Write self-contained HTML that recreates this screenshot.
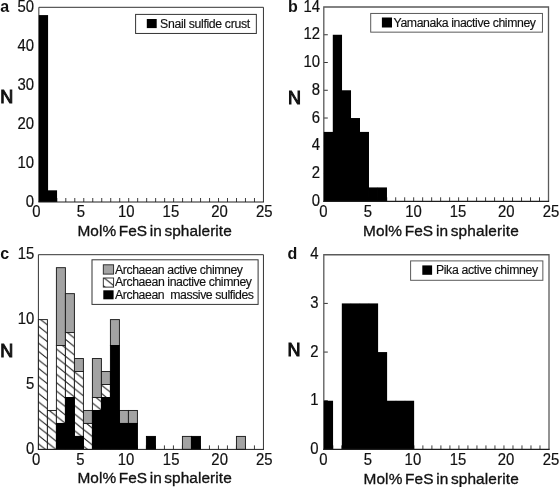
<!DOCTYPE html>
<html lang="en"><head><meta charset="utf-8"><title>Mol% FeS in sphalerite histograms</title>
<style>
html,body{margin:0;padding:0;background:#fff;}
body{width:560px;height:487px;overflow:hidden;}
svg{display:block;filter:blur(0.4px);}
text{font-family:"Liberation Sans",Arial,Helvetica,sans-serif;fill:#111;}
.tk{font-size:14.9px;stroke:#111;stroke-width:0.18px;}
.ti{font-size:15.4px;word-spacing:-1.8px;stroke:#111;stroke-width:0.32px;}
.lt{font-size:16px;font-weight:bold;}
.nn{font-size:18px;stroke:#111;stroke-width:1px;}
.lg{font-size:12.3px;stroke:#111;stroke-width:0.15px;}
</style></head><body>
<svg width="560" height="487" viewBox="0 0 560 487">
<defs>
<pattern id="hatch" patternUnits="userSpaceOnUse" x="38.3" y="410.1" width="10.5" height="8.4">
<rect width="10.5" height="8.4" fill="#fff"/>
<path d="M-2.5 -2L13 10.4M-2.5 6.4L2.5 10.4M8 -2L13 2" stroke="#1c1c1c" stroke-width="1" fill="none"/>
</pattern>
</defs>
<rect width="560" height="487" fill="#fff"/>

<g>
<path d="M47.83 202v-4M56.82 202v-4M65.8 202v-4M74.79 202v-4M83.77 202v-4M92.75 202v-4M101.74 202v-4M110.72 202v-4M119.71 202v-4M128.69 202v-4M137.67 202v-4M146.66 202v-4M155.64 202v-4M164.63 202v-4M173.61 202v-4M182.59 202v-4M191.58 202v-4M200.56 202v-4M209.55 202v-4M218.53 202v-4M227.51 202v-4M236.5 202v-4M245.48 202v-4M254.47 202v-4" stroke="#333" stroke-width="0.95" fill="none"/>
<path d="M38.85 202V7.3H263.45V202" fill="none" stroke="#333" stroke-width="1"/>
<rect x="38.85" y="15.09" width="9.23" height="186.91" fill="#000"/>
<rect x="47.83" y="190.32" width="9.23" height="11.68" fill="#000"/>
<path d="M38.35 202H263.95" fill="none" stroke="#1e1e1e" stroke-width="1.2"/>
<text class="tk" text-anchor="end" transform="translate(34.05 206.5) scale(1 1.08)">0</text>
<text class="tk" text-anchor="end" transform="translate(34.05 167.56) scale(1 1.08)">10</text>
<text class="tk" text-anchor="end" transform="translate(34.05 128.62) scale(1 1.08)">20</text>
<text class="tk" text-anchor="end" transform="translate(34.05 89.68) scale(1 1.08)">30</text>
<text class="tk" text-anchor="end" transform="translate(34.05 50.74) scale(1 1.08)">40</text>
<text class="tk" text-anchor="end" transform="translate(34.05 11.8) scale(1 1.08)">50</text>
<text class="tk" text-anchor="middle" transform="translate(36.45 217.3) scale(1 1.08)">0</text>
<text class="tk" text-anchor="middle" transform="translate(80.92 217.3) scale(1 1.08)">5</text>
<text class="tk" text-anchor="middle" transform="translate(126.29 217.3) scale(1 1.08)">10</text>
<text class="tk" text-anchor="middle" transform="translate(170.91 217.3) scale(1 1.08)">15</text>
<text class="tk" text-anchor="middle" transform="translate(219.53 217.3) scale(1 1.08)">20</text>
<text class="tk" text-anchor="middle" transform="translate(264.35 217.3) scale(1 1.08)">25</text>
<text class="ti" x="77.45" y="235.9" textLength="154.3" lengthAdjust="spacing">Mol% FeS in sphalerite</text>
<text class="lt" x="0.3" y="12.2">a</text>
<text class="nn" x="0.2" y="103">N</text>
<rect x="135.6" y="14.4" width="120.75" height="19.05" fill="#fff" stroke="#333" stroke-width="1"/>
<rect x="146.8" y="19" width="9.9" height="9.1" fill="#000"/>
<text class="lg" transform="translate(160.1 27.8) scale(1 1.06)" textLength="90" lengthAdjust="spacing" xml:space="preserve">Snail sulfide crust</text>
</g>
<g>
<path d="M332.79 201.3v-4M341.78 201.3v-4M350.76 201.3v-4M359.75 201.3v-4M368.74 201.3v-4M377.73 201.3v-4M386.72 201.3v-4M395.7 201.3v-4M404.69 201.3v-4M413.68 201.3v-4M422.67 201.3v-4M431.66 201.3v-4M440.64 201.3v-4M449.63 201.3v-4M458.62 201.3v-4M467.61 201.3v-4M476.6 201.3v-4M485.58 201.3v-4M494.57 201.3v-4M503.56 201.3v-4M512.55 201.3v-4M521.54 201.3v-4M530.52 201.3v-4M539.51 201.3v-4" stroke="#333" stroke-width="0.95" fill="none"/>
<path d="M323.8 173.54h4M323.8 145.79h4M323.8 118.03h4M323.8 90.27h4M323.8 62.51h4M323.8 34.76h4" stroke="#333" stroke-width="1" fill="none"/>
<path d="M323.8 201.3V7H548.5V201.3" fill="none" stroke="#5a5a5a" stroke-width="1.3"/>
<rect x="323.8" y="131.91" width="9.24" height="69.39" fill="#000"/>
<rect x="332.79" y="34.76" width="9.24" height="166.54" fill="#000"/>
<rect x="341.78" y="90.27" width="9.24" height="111.03" fill="#000"/>
<rect x="350.76" y="118.03" width="9.24" height="83.27" fill="#000"/>
<rect x="359.75" y="131.91" width="9.24" height="69.39" fill="#000"/>
<rect x="368.74" y="187.42" width="9.24" height="13.88" fill="#000"/>
<rect x="377.73" y="187.42" width="9.24" height="13.88" fill="#000"/>
<path d="M323.15 201.3H549.15" fill="none" stroke="#1e1e1e" stroke-width="1.2"/>
<text class="tk" text-anchor="end" transform="translate(320.1 206) scale(1 1.08)">0</text>
<text class="tk" text-anchor="end" transform="translate(320.1 178.24) scale(1 1.08)">2</text>
<text class="tk" text-anchor="end" transform="translate(320.1 150.49) scale(1 1.08)">4</text>
<text class="tk" text-anchor="end" transform="translate(320.1 122.73) scale(1 1.08)">6</text>
<text class="tk" text-anchor="end" transform="translate(320.1 94.97) scale(1 1.08)">8</text>
<text class="tk" text-anchor="end" transform="translate(320.1 67.21) scale(1 1.08)">10</text>
<text class="tk" text-anchor="end" transform="translate(320.1 39.46) scale(1 1.08)">12</text>
<text class="tk" text-anchor="end" transform="translate(320.1 11.7) scale(1 1.08)">14</text>
<text class="tk" text-anchor="middle" transform="translate(323.4 217.2) scale(1 1.08)">0</text>
<text class="tk" text-anchor="middle" transform="translate(367.94 217.2) scale(1 1.08)">5</text>
<text class="tk" text-anchor="middle" transform="translate(413.58 217.2) scale(1 1.08)">10</text>
<text class="tk" text-anchor="middle" transform="translate(458.12 217.2) scale(1 1.08)">15</text>
<text class="tk" text-anchor="middle" transform="translate(506.36 217.2) scale(1 1.08)">20</text>
<text class="tk" text-anchor="middle" transform="translate(551 217.2) scale(1 1.08)">25</text>
<text class="ti" x="363" y="235.7" textLength="155.7" lengthAdjust="spacing">Mol% FeS in sphalerite</text>
<text class="lt" x="288" y="12.2">b</text>
<text class="nn" x="288" y="104">N</text>
<rect x="370.7" y="13.45" width="171.75" height="18.7" fill="#fff" stroke="#5a5a5a" stroke-width="1"/>
<rect x="381.9" y="17.5" width="10.1" height="10" fill="#000"/>
<text class="lg" transform="translate(393.5 27.4) scale(1 1.06)" textLength="142.5" lengthAdjust="spacing" xml:space="preserve">Yamanaka inactive chimney</text>
</g>
<g>
<path d="M47.4 449.4v-4M56.4 449.4v-4M65.41 449.4v-4M74.41 449.4v-4M83.41 449.4v-4M92.41 449.4v-4M101.41 449.4v-4M110.42 449.4v-4M119.42 449.4v-4M128.42 449.4v-4M137.42 449.4v-4M146.42 449.4v-4M155.43 449.4v-4M164.43 449.4v-4M173.43 449.4v-4M182.43 449.4v-4M191.43 449.4v-4M200.44 449.4v-4M209.44 449.4v-4M218.44 449.4v-4M227.44 449.4v-4M236.44 449.4v-4M245.45 449.4v-4M254.45 449.4v-4" stroke="#333" stroke-width="0.95" fill="none"/>
<path d="M38.4 449.4V254.7H263.45V449.4" fill="none" stroke="#333" stroke-width="1"/>
<rect x="56.4" y="267.68" width="9" height="77.88" fill="#a3a3a3" stroke="#1c1c1c" stroke-width="0.95"/>
<rect x="65.41" y="293.64" width="9" height="38.94" fill="#a3a3a3" stroke="#1c1c1c" stroke-width="0.95"/>
<rect x="74.41" y="358.54" width="9" height="12.98" fill="#a3a3a3" stroke="#1c1c1c" stroke-width="0.95"/>
<rect x="83.41" y="410.46" width="9" height="12.98" fill="#a3a3a3" stroke="#1c1c1c" stroke-width="0.95"/>
<rect x="92.41" y="358.54" width="9" height="38.94" fill="#a3a3a3" stroke="#1c1c1c" stroke-width="0.95"/>
<rect x="101.41" y="371.52" width="9" height="12.98" fill="#a3a3a3" stroke="#1c1c1c" stroke-width="0.95"/>
<rect x="110.42" y="319.6" width="9" height="25.96" fill="#a3a3a3" stroke="#1c1c1c" stroke-width="0.95"/>
<rect x="119.42" y="410.46" width="9" height="12.98" fill="#a3a3a3" stroke="#1c1c1c" stroke-width="0.95"/>
<rect x="128.42" y="410.46" width="9" height="12.98" fill="#a3a3a3" stroke="#1c1c1c" stroke-width="0.95"/>
<rect x="182.43" y="436.42" width="9" height="12.98" fill="#a3a3a3" stroke="#1c1c1c" stroke-width="0.95"/>
<rect x="236.44" y="436.42" width="9" height="12.98" fill="#a3a3a3" stroke="#1c1c1c" stroke-width="0.95"/>
<rect x="38.4" y="319.6" width="9" height="129.8" fill="url(#hatch)" stroke="#1c1c1c" stroke-width="0.95"/>
<rect x="47.4" y="410.46" width="9" height="38.94" fill="url(#hatch)" stroke="#1c1c1c" stroke-width="0.95"/>
<rect x="56.4" y="345.56" width="9" height="77.88" fill="url(#hatch)" stroke="#1c1c1c" stroke-width="0.95"/>
<rect x="65.41" y="332.58" width="9" height="64.9" fill="url(#hatch)" stroke="#1c1c1c" stroke-width="0.95"/>
<rect x="74.41" y="371.52" width="9" height="64.9" fill="url(#hatch)" stroke="#1c1c1c" stroke-width="0.95"/>
<rect x="83.41" y="423.44" width="9" height="25.96" fill="url(#hatch)" stroke="#1c1c1c" stroke-width="0.95"/>
<rect x="92.41" y="397.48" width="9" height="12.98" fill="url(#hatch)" stroke="#1c1c1c" stroke-width="0.95"/>
<rect x="101.41" y="384.5" width="9" height="12.98" fill="url(#hatch)" stroke="#1c1c1c" stroke-width="0.95"/>
<rect x="56.4" y="423.44" width="9" height="25.96" fill="#000" stroke="#000" stroke-width="0.95"/>
<rect x="65.41" y="397.48" width="9" height="51.92" fill="#000" stroke="#000" stroke-width="0.95"/>
<rect x="74.41" y="436.42" width="9" height="12.98" fill="#000" stroke="#000" stroke-width="0.95"/>
<rect x="92.41" y="410.46" width="9" height="38.94" fill="#000" stroke="#000" stroke-width="0.95"/>
<rect x="101.41" y="397.48" width="9" height="51.92" fill="#000" stroke="#000" stroke-width="0.95"/>
<rect x="110.42" y="345.56" width="9" height="103.84" fill="#000" stroke="#000" stroke-width="0.95"/>
<rect x="119.42" y="423.44" width="9" height="25.96" fill="#000" stroke="#000" stroke-width="0.95"/>
<rect x="128.42" y="423.44" width="9" height="25.96" fill="#000" stroke="#000" stroke-width="0.95"/>
<rect x="146.42" y="436.42" width="9" height="12.98" fill="#000" stroke="#000" stroke-width="0.95"/>
<rect x="191.43" y="436.42" width="9" height="12.98" fill="#000" stroke="#000" stroke-width="0.95"/>
<path d="M37.9 449.4H263.95" fill="none" stroke="#1e1e1e" stroke-width="1"/>
<text class="tk" text-anchor="end" transform="translate(34.4 453.5) scale(1 1.08)">0</text>
<text class="tk" text-anchor="end" transform="translate(34.4 388.6) scale(1 1.08)">5</text>
<text class="tk" text-anchor="end" transform="translate(34.4 323.7) scale(1 1.08)">10</text>
<text class="tk" text-anchor="end" transform="translate(34.4 258.8) scale(1 1.08)">15</text>
<text class="tk" text-anchor="middle" transform="translate(36.1 465.3) scale(1 1.08)">0</text>
<text class="tk" text-anchor="middle" transform="translate(80.51 465.3) scale(1 1.08)">5</text>
<text class="tk" text-anchor="middle" transform="translate(126.12 465.3) scale(1 1.08)">10</text>
<text class="tk" text-anchor="middle" transform="translate(171.13 465.3) scale(1 1.08)">15</text>
<text class="tk" text-anchor="middle" transform="translate(219.64 465.3) scale(1 1.08)">20</text>
<text class="tk" text-anchor="middle" transform="translate(264.25 465.3) scale(1 1.08)">25</text>
<text class="ti" x="77.4" y="482.9" textLength="154.3" lengthAdjust="spacing">Mol% FeS in sphalerite</text>
<text class="lt" x="0.3" y="259.2">c</text>
<text class="nn" x="0.2" y="356.6">N</text>
<rect x="92" y="259.8" width="166.1" height="44.6" fill="#fff" stroke="#333" stroke-width="1"/>
<rect x="103.3" y="264.8" width="10.3" height="9.3" fill="#a3a3a3" stroke="#222" stroke-width="0.9"/>
<text class="lg" transform="translate(115 273.8) scale(1 1.06)" textLength="128" lengthAdjust="spacing" xml:space="preserve">Archaean active chimney</text>
<rect x="103.3" y="278" width="10.3" height="9.1" fill="url(#hatch)" stroke="#222" stroke-width="0.9"/>
<text class="lg" transform="translate(115 286.4) scale(1 1.06)" textLength="137" lengthAdjust="spacing" xml:space="preserve">Archaean inactive chimney</text>
<rect x="103.3" y="290.3" width="10.3" height="9" fill="#000"/>
<text class="lg" transform="translate(115 298.6) scale(1 1.06)" textLength="139" lengthAdjust="spacing" xml:space="preserve">Archaean  massive sulfides</text>
</g>
<g>
<path d="M332.81 449.4v-4M341.82 449.4v-4M350.82 449.4v-4M359.83 449.4v-4M368.84 449.4v-4M377.85 449.4v-4M386.86 449.4v-4M395.86 449.4v-4M404.87 449.4v-4M413.88 449.4v-4M422.89 449.4v-4M431.9 449.4v-4M440.9 449.4v-4M449.91 449.4v-4M458.92 449.4v-4M467.93 449.4v-4M476.94 449.4v-4M485.94 449.4v-4M494.95 449.4v-4M503.96 449.4v-4M512.97 449.4v-4M521.98 449.4v-4M530.98 449.4v-4M539.99 449.4v-4" stroke="#333" stroke-width="0.95" fill="none"/>
<path d="M323.8 400.74h4M323.8 352.07h4M323.8 303.41h4" stroke="#333" stroke-width="1" fill="none"/>
<path d="M323.8 449.4V254.75H549V449.4" fill="none" stroke="#5a5a5a" stroke-width="1.3"/>
<rect x="323.8" y="400.74" width="9.26" height="48.66" fill="#000"/>
<rect x="341.82" y="303.41" width="9.26" height="145.99" fill="#000"/>
<rect x="350.82" y="303.41" width="9.26" height="145.99" fill="#000"/>
<rect x="359.83" y="303.41" width="9.26" height="145.99" fill="#000"/>
<rect x="368.84" y="303.41" width="9.26" height="145.99" fill="#000"/>
<rect x="377.85" y="352.07" width="9.26" height="97.32" fill="#000"/>
<rect x="386.86" y="400.74" width="9.26" height="48.66" fill="#000"/>
<rect x="395.86" y="400.74" width="9.26" height="48.66" fill="#000"/>
<rect x="404.87" y="400.74" width="9.26" height="48.66" fill="#000"/>
<path d="M323.15 449.4H549.65" fill="none" stroke="#1e1e1e" stroke-width="1.2"/>
<text class="tk" text-anchor="end" transform="translate(318.6 453.9) scale(1 1.08)">0</text>
<text class="tk" text-anchor="end" transform="translate(318.6 405.24) scale(1 1.08)">1</text>
<text class="tk" text-anchor="end" transform="translate(318.6 356.57) scale(1 1.08)">2</text>
<text class="tk" text-anchor="end" transform="translate(318.6 307.91) scale(1 1.08)">3</text>
<text class="tk" text-anchor="end" transform="translate(318.6 259.25) scale(1 1.08)">4</text>
<text class="tk" text-anchor="middle" transform="translate(323.3 464.7) scale(1 1.08)">0</text>
<text class="tk" text-anchor="middle" transform="translate(367.84 464.7) scale(1 1.08)">5</text>
<text class="tk" text-anchor="middle" transform="translate(412.88 464.7) scale(1 1.08)">10</text>
<text class="tk" text-anchor="middle" transform="translate(458.02 464.7) scale(1 1.08)">15</text>
<text class="tk" text-anchor="middle" transform="translate(505.96 464.7) scale(1 1.08)">20</text>
<text class="tk" text-anchor="middle" transform="translate(551 464.7) scale(1 1.08)">25</text>
<text class="ti" x="363.5" y="483.6" textLength="155.2" lengthAdjust="spacing">Mol% FeS in sphalerite</text>
<text class="lt" x="287.6" y="259.3">d</text>
<text class="nn" x="287.6" y="356.1">N</text>
<rect x="410.6" y="260.9" width="132.25" height="19.4" fill="#fff" stroke="#5a5a5a" stroke-width="1"/>
<rect x="422.3" y="265.4" width="9.8" height="9.4" fill="#000"/>
<text class="lg" transform="translate(435.9 274.3) scale(1 1.06)" textLength="102.3" lengthAdjust="spacing" xml:space="preserve">Pika active chimney</text>
</g>
</svg>
</body></html>
